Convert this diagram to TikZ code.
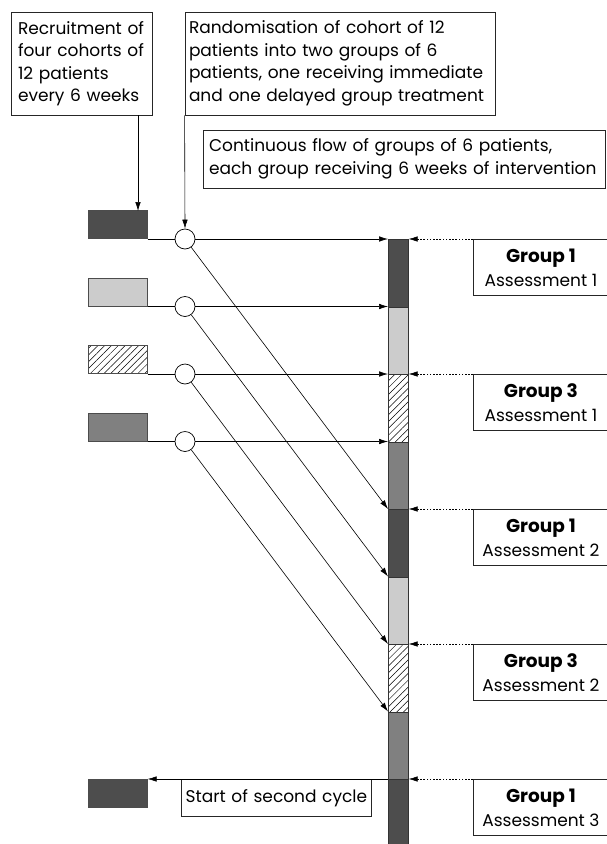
\documentclass[tikz,border=0pt]{standalone}
\usepackage{fontspec}
\setmainfont{Poppins}
\usetikzlibrary{arrows.meta,patterns.meta,calc}
\definecolor{cdark}{HTML}{4D4D4D}
\definecolor{clight}{HTML}{CCCCCC}
\definecolor{cmid}{HTML}{808080}
\newcommand{\gtitle}[1]{{\fontsize{18.5}{24}\selectfont\bfseries #1}}
\begin{document}
\begin{tikzpicture}[x=1pt,y=-1pt,
  every node/.style={font=\fontsize{17}{22.5}\selectfont},
  tbox/.style={draw=black!85,line width=0.8pt,rectangle,align=left,inner sep=0pt},
  gbox/.style={draw=black!85,line width=0.8pt,rectangle,align=center,inner sep=0pt,minimum width=135pt,minimum height=56pt,anchor=north west,font=\fontsize{17}{24}\selectfont},
  cohort/.style={draw=black!70,line width=0.6pt,rectangle,minimum width=59pt,minimum height=28pt,inner sep=0pt,anchor=south west},
  seg/.style={draw=black!80,line width=0.6pt,rectangle,minimum width=20pt,minimum height=67.5pt,inner sep=0pt,anchor=north west},
  hatch/.style={pattern={Lines[angle=45,distance=4.8pt,line width=0.5pt]}},
  rnd/.style={draw=black,line width=0.7pt,circle,minimum size=20pt,inner sep=0pt,fill=white},
  arr/.style={draw=black,line width=0.6pt,-{Latex[length=9pt,width=5.5pt]}},
  darr/.style={arr,dash pattern=on 1.6pt off 1.6pt},
  ln/.style={draw=black,line width=0.6pt}]
\useasboundingbox (0,0) rectangle (607,844);
\clip (0,0) rectangle (607,844);
% top text boxes
\node[tbox,minimum width=141pt,minimum height=103pt,text width=127pt] (box1) at (81.5,63.5)
  {Recruitment of\\four cohorts of\\12 patients\\every 6 weeks};
\node[tbox,minimum width=310pt,minimum height=103pt,text width=302pt] (box2) at (340,63.5)
  {Randomisation of cohort of 12\\patients into two groups of 6\\patients, one receiving immediate\\and one delayed group treatment};
\node[tbox,minimum width=402pt,minimum height=58pt,text width=390pt] (box3) at (404,159)
  {Continuous flow of groups of 6 patients,\\each group receiving 6 weeks of intervention};
% cohort rectangles
\node[cohort,fill=cdark] (r1) at (88,239) {};
\node[cohort,fill=clight] (r2) at (88,306.5) {};
\node[cohort,hatch] (r3) at (88,374) {};
\node[cohort,fill=cmid] (r4) at (88,441.5) {};
\node[cohort,fill=cdark,anchor=north west] (r5) at (88,779) {};
% circles
\node[rnd] (c1) at (185,239) {};
\node[rnd] (c2) at (185,306.5) {};
\node[rnd] (c3) at (185,374) {};
\node[rnd] (c4) at (185,441.5) {};
% bar segments
\node[seg,fill=cdark] (s1) at (388,239) {};
\node[seg,fill=clight] (s2) at (388,306.5) {};
\node[seg,hatch] (s3) at (388,374) {};
\node[seg,fill=cmid] (s4) at (388,441.5) {};
\node[seg,fill=cdark] (s5) at (388,509) {};
\node[seg,fill=clight] (s6) at (388,576.5) {};
\node[seg,hatch] (s7) at (388,644) {};
\node[seg,fill=cmid] (s8) at (388,711.5) {};
\node[seg,fill=cdark] (s9) at (388,779) {};
% group boxes
\node[gbox] (g1) at (473,239) {\gtitle{Group 1}\\Assessment 1};
\node[gbox] (g2) at (473,374) {\gtitle{Group 3}\\Assessment 1};
\node[gbox] (g3) at (473,509) {\gtitle{Group 1}\\Assessment 2};
\node[gbox] (g4) at (473,644) {\gtitle{Group 3}\\Assessment 2};
\node[gbox] (g5) at (473,779) {\gtitle{Group 1}\\Assessment 3};
% start of second cycle
\node[tbox,anchor=north west,minimum width=190pt,minimum height=37pt,text width=184pt,align=center] (start) at (181,779) {Start of second cycle};
% connectors from top boxes
\coordinate (a1) at (138,211);
\draw[arr] (box1.south -| a1) -- (a1);
\draw[arr] (box2.south west) -- (c1.north);
% cohort to circle
\foreach \i in {1,2,3,4} {\draw[ln] (r\i.south east) -- (c\i);}
% horizontal arrows
\draw[arr] (c1) -- (s1.north west);
\draw[arr] (c2) -- (s2.north west);
\draw[arr] (c3) -- (s3.north west);
\draw[arr] (c4) -- (s4.north west);
% diagonal arrows
\draw[arr] (c1) -- (s5.north west);
\draw[arr] (c2) -- (s6.north west);
\draw[arr] (c3) -- (s7.north west);
\draw[arr] (c4) -- (s8.north west);
% dashed assessment arrows
\draw[darr] (g1.north west) -- (s1.north east);
\draw[darr] (g2.north west) -- (s3.north east);
\draw[darr] (g3.north west) -- (s5.north east);
\draw[darr] (g4.north west) -- (s7.north east);
\draw[darr] (g5.north west) -- (s9.north east);
% second cycle
\draw[arr] (s9.north west) -- (r5.north east);
\end{tikzpicture}
\end{document}
